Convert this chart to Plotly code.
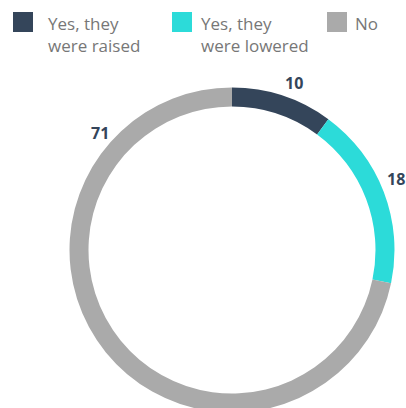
import math
import plotly.graph_objects as go

# Survey answers and their shares
categories = ["Yes, they<br>were raised", "Yes, they<br>were lowered", "No"]
values = [10, 18, 71]
colors = ["#34455a", "#2cdbd9", "#aaaaaa"]

W, H = 406, 420          # figure is a little taller than the view, so the ring runs off the bottom
CX, CY, R = 232, 250, 162.5
HOLE = 143.5 / 162.5


def px(x):
    return x / W


def py(y):
    return 1 - y / H


fig = go.Figure(
    go.Pie(
        labels=categories,
        values=values,
        hole=HOLE,
        sort=False,
        direction="clockwise",
        rotation=0,
        marker=dict(colors=colors, line=dict(width=0)),
        textinfo="none",
        hoverinfo="label+value",
        showlegend=False,
        domain=dict(x=[px(CX - R), px(CX + R)], y=[py(CY + R), py(CY - R)]),
    )
)

# Value labels around the ring: angle (deg, clockwise from 12 o'clock) and radius per slice
label_angles = [20.5, 66.5, 311.5]
label_radius = [178, 178.5, 176]
annotations = []
for v, a, r in zip(values, label_angles, label_radius):
    x = CX + r * math.sin(math.radians(a))
    y = CY - r * math.cos(math.radians(a))
    annotations.append(
        dict(
            x=px(x), y=py(y), xref="paper", yref="paper",
            text=f"<b>{v}</b>", showarrow=False,
            xanchor="center", yanchor="middle",
            font=dict(family="Open Sans", size=16, color="#34455a"),
        )
    )

# Legend drawn as swatches with two-line captions
shapes = []
swatch_x = [13, 172, 327]
caption_x = [46, 199, 353]
for c, name, sx, tx in zip(colors, categories, swatch_x, caption_x):
    shapes.append(
        dict(type="rect", xref="paper", yref="paper",
             x0=px(sx), x1=px(sx + 20), y0=py(32), y1=py(12),
             fillcolor=c, line=dict(width=0))
    )
    annotations.append(
        dict(x=px(tx), y=py(10), xref="paper", yref="paper",
             text=name, showarrow=False, xanchor="left", yanchor="top",
             align="left",
             font=dict(family="Open Sans", size=17, color="#777777"))
    )

fig.update_layout(
    width=W, height=H,
    margin=dict(l=0, r=0, t=0, b=0),
    paper_bgcolor="white",
    plot_bgcolor="white",
    shapes=shapes,
    annotations=annotations,
)

fig.write_html("out.html")
